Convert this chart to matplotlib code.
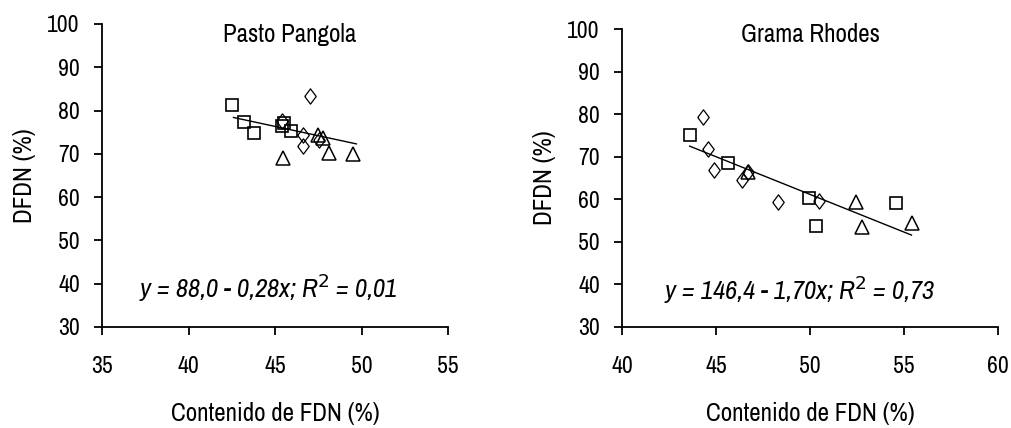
import matplotlib
matplotlib.use("Agg")
import matplotlib.pyplot as plt
from matplotlib import font_manager as fm

# look for a narrow sans face, the original text is tall and condensed
narrow = [f.name for f in fm.fontManager.ttflist
          if ('Narrow' in f.name or 'Condensed' in f.name or f.stretch in ('condensed', 'semi-condensed', 'extra-condensed'))
          and 'Mono' not in f.name and 'Serif' not in f.name]
plt.rcParams['font.family'] = sorted(set(narrow))[:1] + ['Liberation Sans', 'DejaVu Sans']

# Pasto Pangola
pp_sq_x = [42.5, 43.2, 43.8, 45.4, 45.5, 45.9]
pp_sq_y = [81.2, 77.4, 74.8, 76.5, 77.2, 75.3]
pp_di_x = [45.4, 46.6, 46.6, 47.0, 47.55]
pp_di_y = [77.5, 74.4, 71.8, 83.4, 73.2]
pp_tr_x = [45.45, 47.5, 47.8, 48.1, 49.5]
pp_tr_y = [69.0, 74.4, 73.6, 70.3, 70.0]
pp_fit_x = [42.6, 49.7]
pp_fit_y = [78.4, 72.3]

# Grama Rhodes
gr_sq_x = [43.6, 45.65, 49.95, 50.3, 54.6]
gr_sq_y = [75.1, 68.5, 60.4, 53.8, 59.1]
gr_di_x = [44.3, 44.6, 44.9, 46.4, 46.7, 48.3, 50.5]
gr_di_y = [79.4, 71.8, 66.9, 64.6, 66.4, 59.3, 59.5]
gr_tr_x = [46.7, 52.45, 52.75, 55.45]
gr_tr_y = [66.5, 59.3, 53.6, 54.5]
gr_fit_x = [43.6, 55.4]
gr_fit_y = [72.5, 51.6]

rhomb = [(-0.75, 0), (0, 1), (0.75, 0), (0, -1), (-0.75, 0)]

fig = plt.figure(figsize=(10.12, 4.28), dpi=100)
ax1 = fig.add_axes([0.1008, 0.236, 0.3419, 0.708])
ax2 = fig.add_axes([0.6146, 0.236, 0.3715, 0.696])

panels = [
    (ax1, 'Pasto Pangola', 'y = 88,0 - 0,28x; R$^{2}$ = 0,01',
     pp_sq_x, pp_sq_y, pp_di_x, pp_di_y, pp_tr_x, pp_tr_y, pp_fit_x, pp_fit_y,
     (35, 55), (0.543, 0.964), (0.48, 0.129)),
    (ax2, 'Grama Rhodes', 'y = 146,4 - 1,70x; R$^{2}$ = 0,73',
     gr_sq_x, gr_sq_y, gr_di_x, gr_di_y, gr_tr_x, gr_tr_y, gr_fit_x, gr_fit_y,
     (40, 60), (0.50, 0.983), (0.473, 0.124)),
]

for (ax, title, eq, sx, sy, dx, dy, tx, ty, fx, fy, xlim, tpos, epos) in panels:
    ax.plot(fx, fy, color='black', lw=1)
    ax.plot(sx, sy, 's', ms=8, mfc='none', mec='black', mew=1.2)
    ax.plot(dx, dy, marker=rhomb, ls='none', ms=11, mfc='none', mec='black', mew=0.9)
    ax.plot(tx, ty, '^', ms=10, mfc='none', mec='black', mew=1.1)
    ax.set_xlim(*xlim)
    ax.set_ylim(30, 100)
    ax.set_xticks(range(xlim[0], xlim[1] + 1, 5))
    ax.set_yticks(range(30, 101, 10))
    for s in ['top', 'right']:
        ax.spines[s].set_visible(False)
    ax.spines['left'].set_linewidth(1.3)
    ax.spines['bottom'].set_linewidth(1.3)
    ax.tick_params(direction='out', length=6, width=1.3, labelsize=17)
    ax.tick_params(axis='x', pad=15)
    ax.tick_params(axis='y', pad=10)
    ax.set_xlabel('Contenido de FDN (%)', fontsize=18, labelpad=18)
    ax.set_ylabel('DFDN (%)', fontsize=18, labelpad=8)
    ax.text(tpos[0], tpos[1], title, transform=ax.transAxes, ha='center', va='center', fontsize=18)
    ax.text(epos[0], epos[1], eq, transform=ax.transAxes, ha='center', va='center',
            fontsize=19, style='italic')

fig.savefig('out.png', dpi=100)
